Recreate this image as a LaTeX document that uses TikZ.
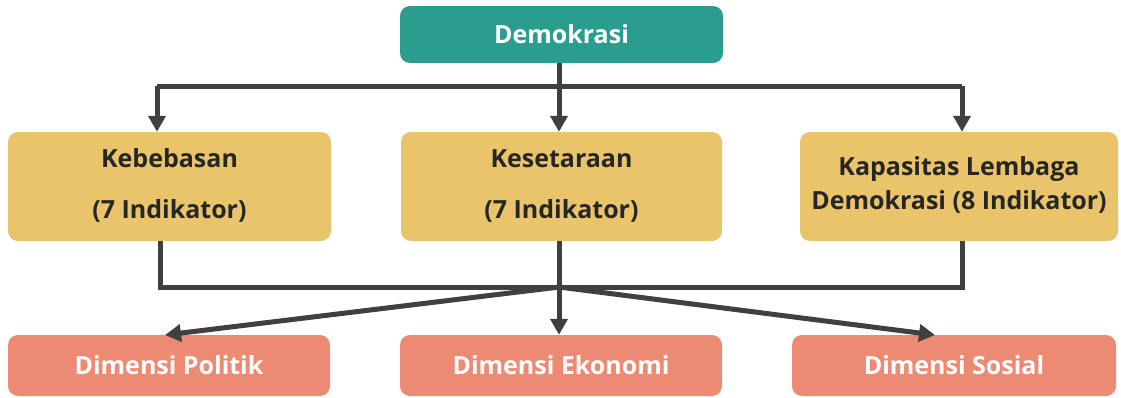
\documentclass[tikz,border=0pt]{standalone}
\usepackage{fontspec}
\setmainfont{Open Sans}
\usetikzlibrary{arrows.meta}
\definecolor{teal}{RGB}{42,157,143}
\definecolor{sand}{RGB}{233,196,106}
\definecolor{salmon}{RGB}{236,138,116}
\definecolor{line}{RGB}{64,64,64}
\definecolor{ink}{RGB}{38,38,38}
\newcommand{\twolines}[3]{\raisebox{#3}{\begin{tabular}{@{}c@{}}#1\end{tabular}}}
\tikzset{
  box/.style={rectangle, rounded corners=10pt, inner sep=0pt, align=center, font=\bfseries\fontsize{25}{30}\selectfont},
  topbox/.style={box, fill=teal, text=white, minimum width=323pt, minimum height=57pt},
  midbox/.style={box, fill=sand, text=ink, minimum height=109pt},
  botbox/.style={box, fill=salmon, text=white, minimum height=61pt},
  conn/.style={draw=line, line width=5pt},
  arr/.style={conn, -{Triangle[length=16pt,width=17pt]}}
}
\begin{document}
\begin{tikzpicture}[x=1pt,y=-1pt]
\useasboundingbox (0,0) rectangle (1121,397);
\fill[white] (0,0) rectangle (1121,397);
\node[topbox] (demo) at (561.5,34.5) {Demokrasi};
\node[midbox, minimum width=323pt] (bebas) at (169.5,186.5) {\raisebox{3pt}{\begin{tabular}{@{}c@{}}Kebebasan\\[21pt](7 Indikator)\end{tabular}}};
\node[midbox, minimum width=321pt] (setara) at (561.5,186.5) {\raisebox{3pt}{\begin{tabular}{@{}c@{}}Kesetaraan\\[21pt](7 Indikator)\end{tabular}}};
\node[midbox, minimum width=318pt] (kapas) at (959,186.5) {\raisebox{6pt}{\begin{tabular}{@{}c@{}}Kapasitas Lembaga\\[4pt]Demokrasi (8 Indikator)\end{tabular}}};
\node[botbox, minimum width=322pt] (pol) at (169,365.5) {Dimensi Politik};
\node[botbox, minimum width=322pt] (eko) at (561,365.5) {Dimensi Ekonomi};
\node[botbox, minimum width=324pt] (sos) at (954,365.5) {Dimensi Sosial};
% top distribution
\coordinate (tl) at (157,86);
\coordinate (tr) at (962,86);
\coordinate (tm) at (559,86);
\draw[conn] (demo.south -| tm) -- (tm);
\draw[conn] (tl) -- (tr);
\draw[arr] (tl) -- (tl |- bebas.north);
\draw[arr] (tm) -- (tm |- setara.north);
\draw[arr] (tr) -- (tr |- kapas.north);
% bottom collection
\coordinate (bl) at (160,287);
\coordinate (br) at (962,287);
\coordinate (bm) at (559,287);
\draw[conn, line join=miter] (bl |- bebas.south) -- (bl) -- (br) -- (br |- kapas.south);
\draw[conn] (bm |- setara.south) -- (bm);
\coordinate (pt) at (165,335);
\coordinate (st) at (935,335);
\draw[arr] (bm) -- (pt);
\draw[arr] (bm) -- (bm |- eko.north);
\draw[arr] (bm) -- (st);
\end{tikzpicture}
\end{document}
